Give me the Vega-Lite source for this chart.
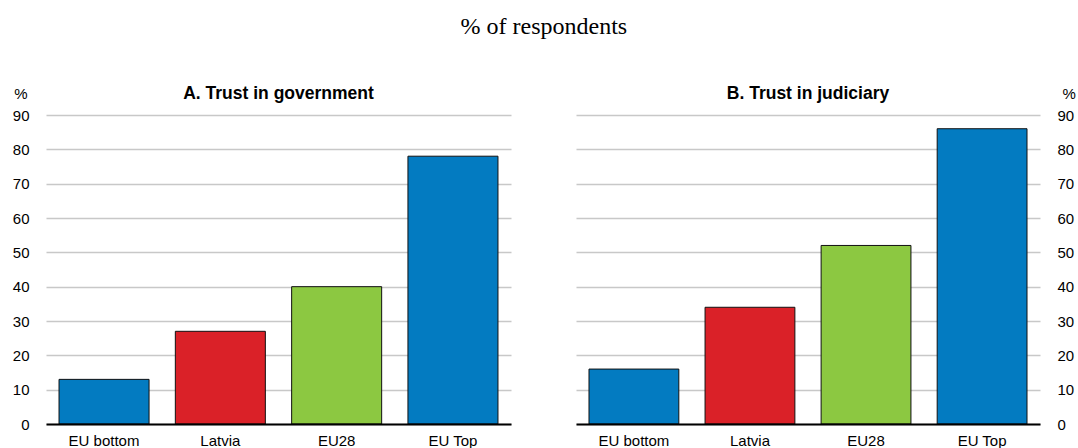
{
  "$schema": "https://vega.github.io/schema/vega-lite/v6.json",
  "padding": {"left": 12, "top": 14, "right": 4, "bottom": 0},
  "background": "white",
  "title": {"text": "% of respondents", "font": "Liberation Serif", "fontSize": 24, "fontWeight": "normal", "color": "black", "anchor": "middle", "offset": 46},
  "spacing": 65,
  "hconcat": [
    {
      "width": 465,
      "height": 309,
      "title": {"text": "A. Trust in government", "font": "Liberation Sans", "fontSize": 17.5, "fontWeight": "bold", "color": "black", "anchor": "middle", "offset": -16},
      "data": {"values": [
        {"category": "EU bottom", "value": 13},
        {"category": "Latvia", "value": 27},
        {"category": "EU28", "value": 40},
        {"category": "EU Top", "value": 78}
      ]},
      "mark": {"type": "bar", "stroke": "#111111", "strokeWidth": 1},
      "encoding": {
        "x": {"field": "category", "type": "nominal", "sort": null,
          "scale": {"paddingInner": 0.226, "paddingOuter": 0.112},
          "axis": {"title": null, "labelAngle": 0, "ticks": false, "domainColor": "black", "domainWidth": 2, "labelPadding": 9, "zindex": 1}},
        "y": {"field": "value", "type": "quantitative",
          "scale": {"domain": [0, 90], "nice": false},
          "axis": {"orient": "left", "values": [0, 10, 20, 30, 40, 50, 60, 70, 80, 90], "title": "%", "titleAngle": 0, "titleAlign": "right", "titleBaseline": "alphabetic", "titleX": -19, "titleY": -17, "labelPadding": 17}},
        "color": {"field": "category", "type": "nominal", "legend": null,
          "scale": {"domain": ["EU bottom", "Latvia", "EU28", "EU Top"], "range": ["#037BC1", "#DA2128", "#8CC841", "#037BC1"]}}
      }
    },
    {
      "width": 464,
      "height": 309,
      "title": {"text": "B. Trust in judiciary", "font": "Liberation Sans", "fontSize": 17.5, "fontWeight": "bold", "color": "black", "anchor": "middle", "offset": -16},
      "data": {"values": [
        {"category": "EU bottom", "value": 16},
        {"category": "Latvia", "value": 34},
        {"category": "EU28", "value": 52},
        {"category": "EU Top", "value": 86}
      ]},
      "mark": {"type": "bar", "stroke": "#111111", "strokeWidth": 1},
      "encoding": {
        "x": {"field": "category", "type": "nominal", "sort": null,
          "scale": {"paddingInner": 0.226, "paddingOuter": 0.112},
          "axis": {"title": null, "labelAngle": 0, "ticks": false, "domainColor": "black", "domainWidth": 2, "labelPadding": 9, "zindex": 1}},
        "y": {"field": "value", "type": "quantitative",
          "scale": {"domain": [0, 90], "nice": false},
          "axis": {"orient": "right", "values": [0, 10, 20, 30, 40, 50, 60, 70, 80, 90], "title": "%", "titleAngle": 0, "titleAlign": "left", "titleBaseline": "alphabetic", "titleX": 22, "titleY": -17, "labelPadding": 17}},
        "color": {"field": "category", "type": "nominal", "legend": null,
          "scale": {"domain": ["EU bottom", "Latvia", "EU28", "EU Top"], "range": ["#037BC1", "#DA2128", "#8CC841", "#037BC1"]}}
      }
    }
  ],
  "config": {
    "view": {"stroke": null},
    "axis": {"labelFont": "Liberation Sans", "labelFontSize": 15, "labelColor": "black", "titleFont": "Liberation Sans", "titleFontSize": 15, "titleFontWeight": "normal", "titleColor": "black"},
    "axisY": {"domain": false, "ticks": false, "grid": true, "gridColor": "#c8c8c8", "gridWidth": 1.5},
    "axisX": {"grid": false}
  }
}
